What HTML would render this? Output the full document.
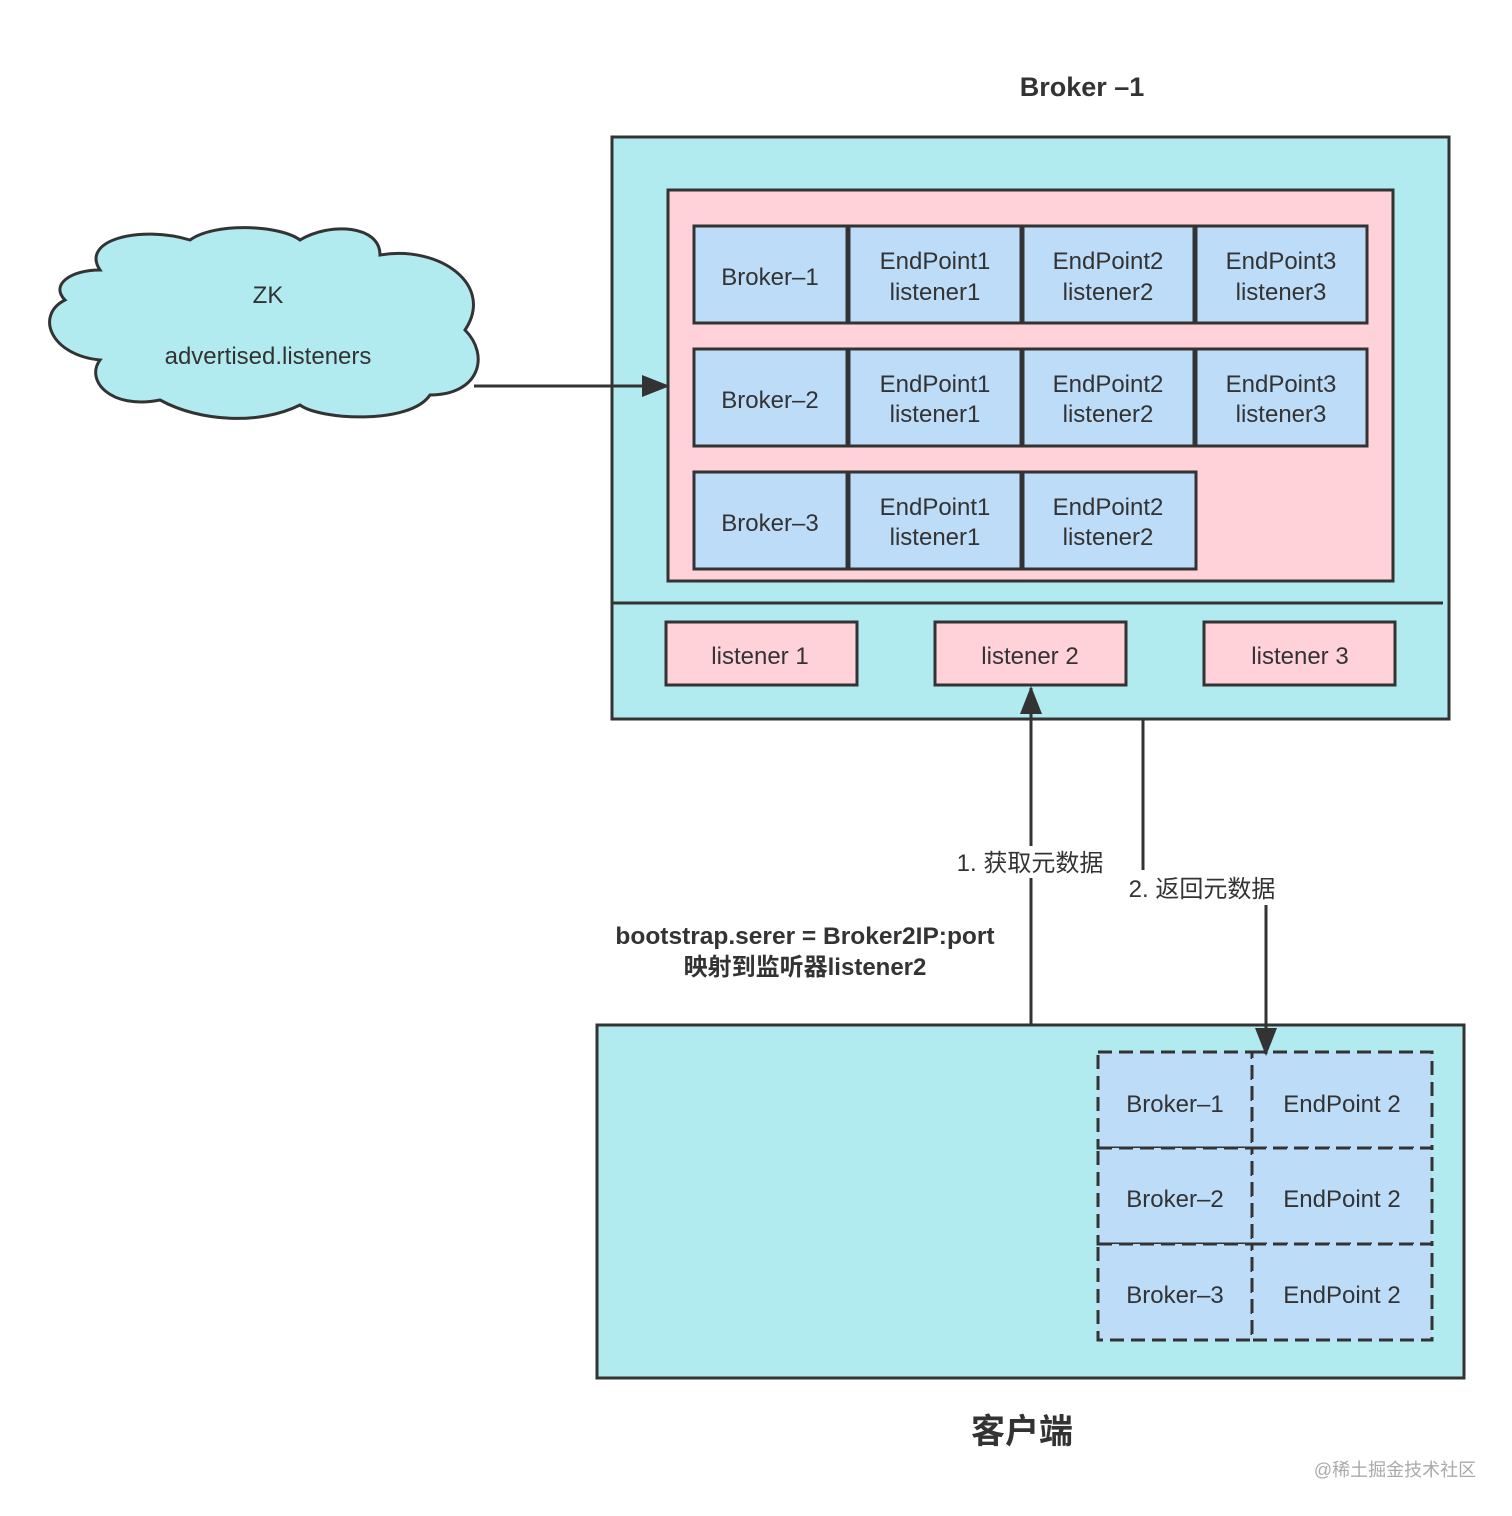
<!DOCTYPE html>
<html><head><meta charset="utf-8"><style>
html,body{margin:0;padding:0;background:#fff;}
svg{display:block;}
text{font-family:"Liberation Sans","Noto Sans CJK SC",sans-serif;fill:#333;}
</style></head><body>
<svg width="1512" height="1516" viewBox="0 0 1512 1516" xmlns="http://www.w3.org/2000/svg">
<defs>
<marker id="ab" markerWidth="28" markerHeight="22" refX="26" refY="11" orient="auto" markerUnits="userSpaceOnUse"><path d="M0,0 L28,11 L0,22 z" fill="#333"/></marker></defs>
<text x="1082" y="96" font-size="27" text-anchor="middle" font-weight="bold">Broker –1</text>
<rect x="612" y="137" width="837" height="582" fill="#b2ebef" stroke="#333" stroke-width="3"/>
<rect x="668" y="190" width="725" height="391" fill="#ffd1d9" stroke="#333" stroke-width="3"/>
<g fill="#bddcf8" stroke="#333" stroke-width="3">
<rect x="694" y="226" width="153" height="97"/><rect x="849" y="226" width="172" height="97"/><rect x="1023" y="226" width="171" height="97"/><rect x="1196" y="226" width="171" height="97"/>
<rect x="694" y="349" width="153" height="97"/><rect x="849" y="349" width="172" height="97"/><rect x="1023" y="349" width="171" height="97"/><rect x="1196" y="349" width="171" height="97"/>
<rect x="694" y="472" width="153" height="97"/><rect x="849" y="472" width="172" height="97"/><rect x="1023" y="472" width="173" height="97"/>
</g>
<g font-size="24" text-anchor="middle">
<text x="770" y="285">Broker–1</text>
<text x="935" y="269">EndPoint1</text><text x="935" y="300">listener1</text>
<text x="1108" y="269">EndPoint2</text><text x="1108" y="300">listener2</text>
<text x="1281" y="269">EndPoint3</text><text x="1281" y="300">listener3</text>
<text x="770" y="408">Broker–2</text>
<text x="935" y="392">EndPoint1</text><text x="935" y="422">listener1</text>
<text x="1108" y="392">EndPoint2</text><text x="1108" y="422">listener2</text>
<text x="1281" y="392">EndPoint3</text><text x="1281" y="422">listener3</text>
<text x="770" y="531">Broker–3</text>
<text x="935" y="515">EndPoint1</text><text x="935" y="545">listener1</text>
<text x="1108" y="515">EndPoint2</text><text x="1108" y="545">listener2</text>
</g>
<line x1="612" y1="603" x2="1443" y2="603" stroke="#333" stroke-width="3"/>
<g fill="#ffd1d9" stroke="#333" stroke-width="3">
<rect x="666" y="622" width="191" height="63"/><rect x="935" y="622" width="191" height="63"/><rect x="1204" y="622" width="191" height="63"/>
</g>
<g font-size="24" text-anchor="middle">
<text x="760" y="664">listener 1</text><text x="1030" y="664">listener 2</text><text x="1300" y="664">listener 3</text>
</g>
<path d="M100,270 C80,240 140,225 190,240 C215,222 280,225 300,240 C330,222 380,225 380,255 C440,245 495,285 465,330 C490,355 480,395 430,395 C410,425 320,420 300,405 C260,425 200,422 160,400 C110,410 85,380 100,360 C50,355 35,315 65,300 C50,285 70,270 100,270 Z" fill="#b2ebef" stroke="#333" stroke-width="3"/>
<text x="268" y="303" font-size="24" text-anchor="middle">ZK</text>
<text x="268" y="364" font-size="24" text-anchor="middle">advertised.listeners</text>
<line x1="474" y1="386" x2="668" y2="386" stroke="#333" stroke-width="3" marker-end="url(#ab)"/>
<rect x="597" y="1025" width="867" height="353" fill="#b2ebef" stroke="#333" stroke-width="3"/>
<g fill="#bddcf8" stroke="#333" stroke-width="3" stroke-dasharray="14,7">
<rect x="1098" y="1052" width="154" height="96"/><rect x="1252" y="1052" width="180" height="96"/>
<rect x="1098" y="1148" width="154" height="96"/><rect x="1252" y="1148" width="180" height="96"/>
<rect x="1098" y="1244" width="154" height="96"/><rect x="1252" y="1244" width="180" height="96"/>
</g>
<g font-size="24" text-anchor="middle">
<text x="1175" y="1112">Broker–1</text><text x="1342" y="1112">EndPoint 2</text>
<text x="1175" y="1207">Broker–2</text><text x="1342" y="1207">EndPoint 2</text>
<text x="1175" y="1303">Broker–3</text><text x="1342" y="1303">EndPoint 2</text>
</g>
<line x1="1031" y1="1024" x2="1031" y2="688" stroke="#333" stroke-width="3" marker-end="url(#ab)"/>
<polyline points="1143,719 1143,870" fill="none" stroke="#333" stroke-width="3"/>
<line x1="1266" y1="905" x2="1266" y2="1054" stroke="#333" stroke-width="3" marker-end="url(#ab)"/>
<rect x="950" y="846" width="160" height="32" fill="#fff"/>
<text x="1030" y="871" font-size="24" text-anchor="middle">1. 获取元数据</text>
<text x="1202" y="897" font-size="24" text-anchor="middle">2. 返回元数据</text>
<text x="805" y="944" font-size="24.5" text-anchor="middle" font-weight="bold">bootstrap.serer = Broker2IP:port</text>
<text x="805" y="975" font-size="24" text-anchor="middle" font-weight="bold">映射到监听器listener2</text>
<text x="1022" y="1443" font-size="34" text-anchor="middle" font-weight="bold">客户端</text>
<text x="1395" y="1476" font-size="18" text-anchor="middle" style="fill:#aaa">@稀土掘金技术社区</text>
</svg>
</body></html>
